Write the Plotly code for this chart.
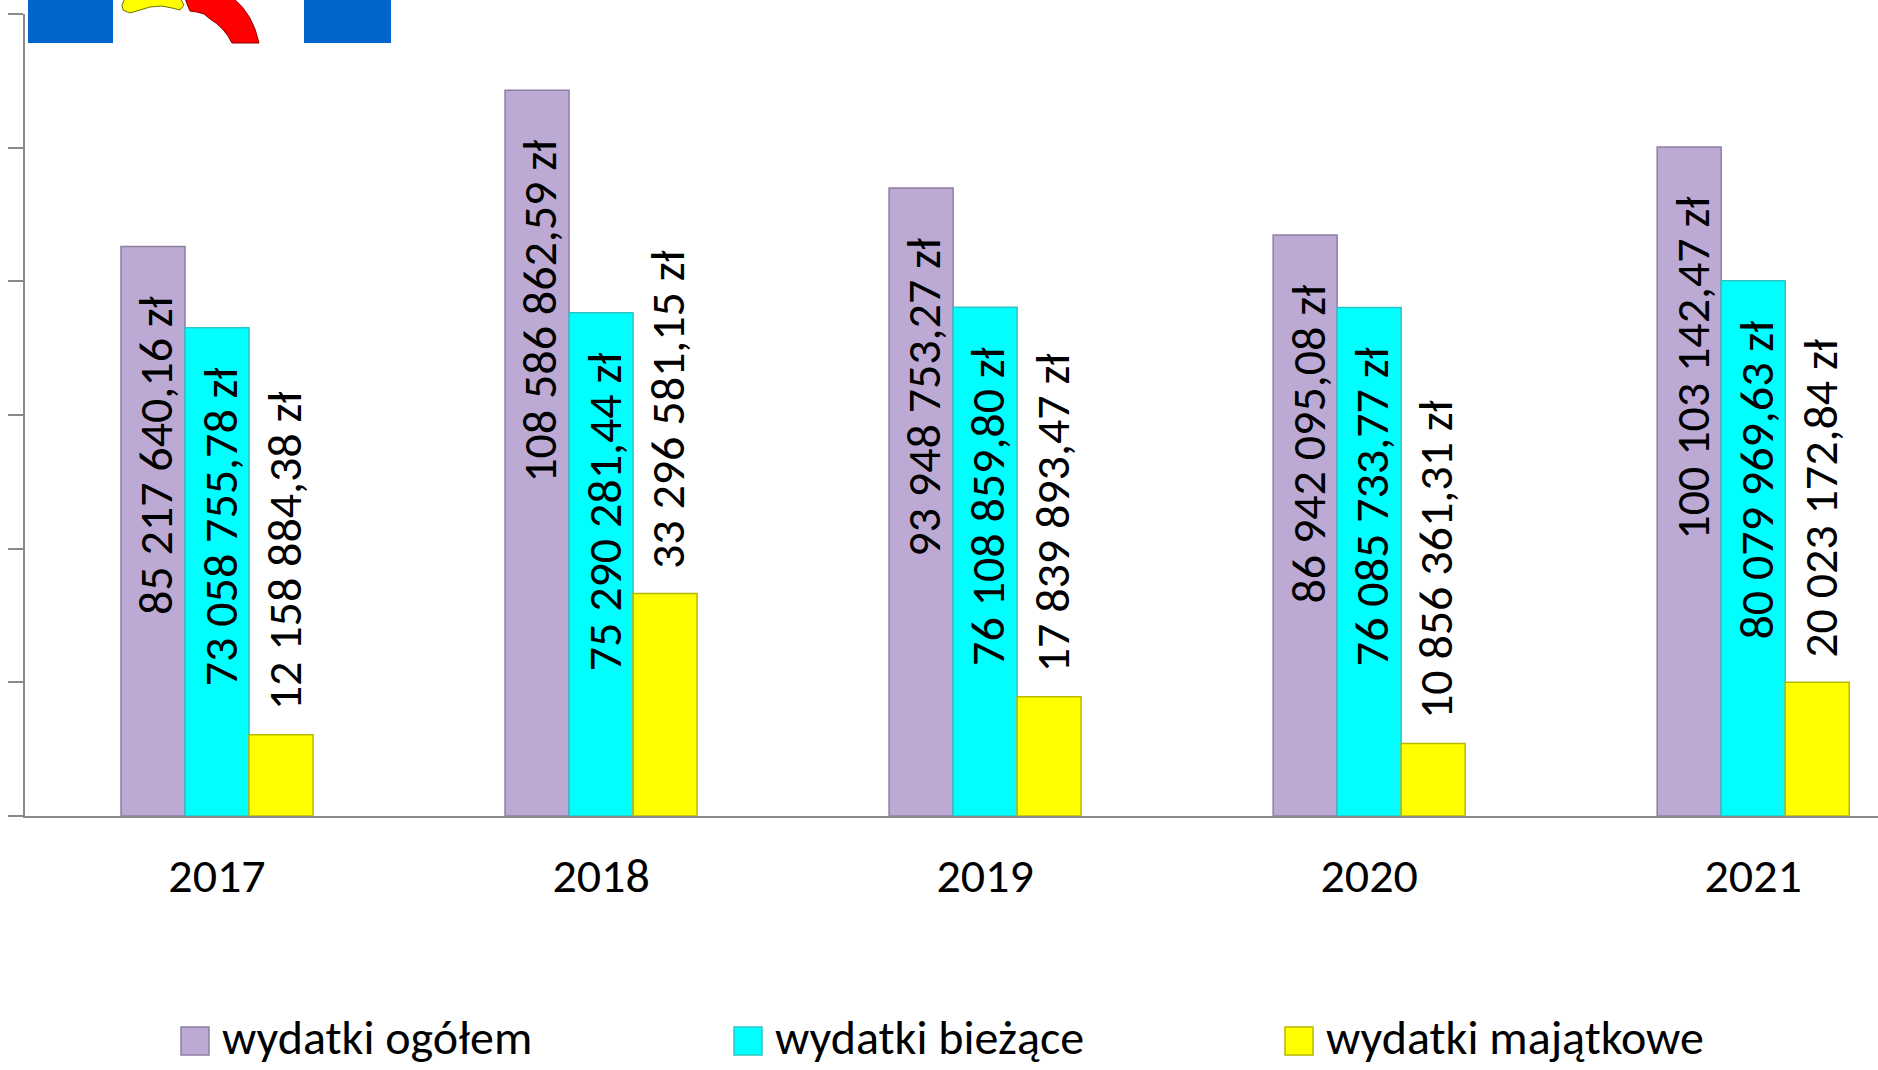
import plotly.graph_objects as go

# ---- data -------------------------------------------------------------
years = ["2017", "2018", "2019", "2020", "2021"]
wydatki_ogolem = [85217640.16, 108586862.59, 93948753.27, 86942095.08, 100103142.47]
wydatki_biezace = [73058755.78, 75290281.44, 76108859.80, 76085733.77, 80079969.63]
wydatki_majatkowe = [12158884.38, 33296581.15, 17839893.47, 10856361.31, 20023172.84]
series_names = ["wydatki ogółem", "wydatki bieżące", "wydatki majątkowe"]

# ---- style ------------------------------------------------------------
W, H = 1878, 1070
M_L, M_R, M_T, M_B = 25, 0, 14, 254
FONT = "Calibri, Carlito, 'Open Sans', sans-serif"
FILLS = ["#BCAAD5", "#00FFFF", "#FFFF00"]
EDGES = ["#8C7FA0", "#2FC4C4", "#B8B800"]
AXIS_GREY = "#8A8A8A"
BARGAP = 0.5
X_RANGE = [-0.5, 4.325]


def pln(v):
    return f"{v:,.2f}".replace(",", " ").replace(".", ",") + " zł"


def px_x(x):
    return (x - M_L) / (W - M_L - M_R)


def px_y(y):
    return (H - M_B - y) / (H - M_T - M_B)


series = [wydatki_ogolem, wydatki_biezace, wydatki_majatkowe]
xs = list(range(len(years)))

fig = go.Figure()
for name, vals, fill, edge in zip(series_names, series, FILLS, EDGES):
    fig.add_trace(go.Bar(
        x=xs, y=vals, name=name,
        marker=dict(color=fill, line=dict(color=edge, width=1.5)),
        showlegend=False, hoverinfo="y",
    ))

# value labels, rotated, reading bottom-to-top
slot = (1 - BARGAP) / len(series)
label_rules = [  # (yanchor, yshift) per series
    ("top", -48),
    ("top", -38),
    ("bottom", 22),
]
annotations = []
for j, vals in enumerate(series):
    anchor, shift = label_rules[j]
    for i, v in enumerate(vals):
        annotations.append(dict(
            x=i + (j - 1) * slot, y=v, xref="x", yref="y",
            text=pln(v), textangle=-90, showarrow=False,
            xanchor="center", yanchor=anchor, yshift=shift, xshift=3,
            font=dict(family=FONT, size=48, color="#000000"),
        ))

# legend drawn below the axis
shapes = []
legend_items = [(181, 220), (734, 773), (1285, 1324)]
for (mx, tx), name, fill, edge in zip(legend_items, series_names, FILLS, EDGES):
    shapes.append(dict(
        type="rect", xref="paper", yref="paper", layer="above",
        x0=px_x(mx), x1=px_x(mx + 28), y0=px_y(1027), y1=px_y(1055),
        fillcolor=fill, line=dict(color=edge, width=1.5),
    ))
    annotations.append(dict(
        x=px_x(tx), y=px_y(1037), xref="paper", yref="paper",
        text=name, showarrow=False, xanchor="left", yanchor="middle",
        font=dict(family=FONT, size=48, color="#000000"),
    ))

# emblem fragment in the upper-left corner
def path(points, close=True):
    d = ""
    for k, p in enumerate(points):
        if p[0] == "Q":
            (_, cx, cy, ex, ey) = p
            d += f" Q{px_x(cx):.5f},{px_y(cy):.5f} {px_x(ex):.5f},{px_y(ey):.5f}"
        else:
            d += (" M" if k == 0 else " L") + f"{px_x(p[0]):.5f},{px_y(p[1]):.5f}"
    return d + (" Z" if close else "")


for x0, x1 in [(28, 113), (304, 391)]:
    shapes.append(dict(
        type="rect", xref="paper", yref="paper", layer="above",
        x0=px_x(x0), x1=px_x(x1), y0=px_y(43), y1=px_y(-2),
        fillcolor="#0066CC", line=dict(width=0),
    ))
shapes.append(dict(
    type="path", xref="paper", yref="paper", layer="above",
    path=path([(185, -2), (233, -2), ("Q", 253, 14, 259, 43), (232, 43),
               ("Q", 224, 27, 210, 19), (204, 14), (197, 12), (190, 11), (187, 4)]),
    fillcolor="#FF0000", line=dict(color="#8B0000", width=1),
))
shapes.append(dict(
    type="path", xref="paper", yref="paper", layer="above",
    path=path([(125, -2), (180, -2), (184, 5), (180, 10), (172, 8), (162, 6),
               (150, 7), (140, 10), (130, 13), (123, 10), (122, 5)]),
    fillcolor="#FFFF00", line=dict(color="#707000", width=1),
))

fig.update_layout(
    width=W, height=H,
    margin=dict(l=M_L, r=M_R, t=M_T, b=M_B, pad=0),
    paper_bgcolor="#FFFFFF", plot_bgcolor="#FFFFFF",
    barmode="group", bargap=BARGAP, bargroupgap=0,
    showlegend=False,
    annotations=annotations, shapes=shapes,
    font=dict(family=FONT, color="#000000"),
)
fig.update_xaxes(
    range=X_RANGE, tickmode="array", tickvals=xs, ticktext=years,
    showline=True, linecolor=AXIS_GREY, linewidth=2,
    ticks="", showgrid=False, zeroline=False,
    tickfont=dict(family=FONT, size=48, color="#000000"),
    ticklabelstandoff=16,
)
fig.update_yaxes(
    range=[0, 120e6], tick0=0, dtick=20e6,
    ticks="outside", ticklen=15, tickwidth=2, tickcolor=AXIS_GREY,
    showline=True, linecolor=AXIS_GREY, linewidth=2,
    showticklabels=False, showgrid=False, zeroline=False,
)

fig.write_html("out.html")
